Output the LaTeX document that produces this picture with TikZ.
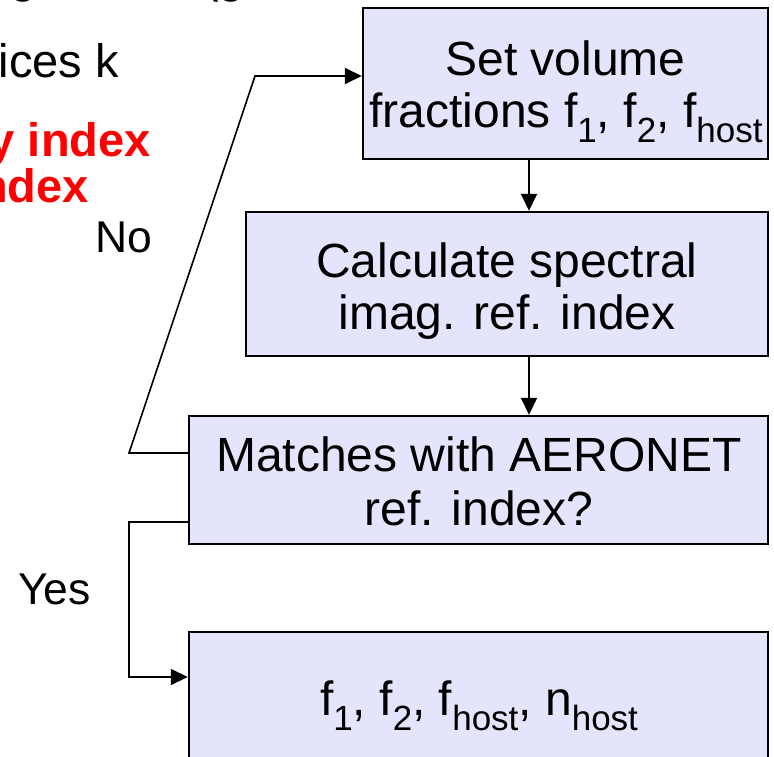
\documentclass[tikz,border=0pt]{standalone}
\usepackage{fontspec}
\setmainfont{Liberation Sans}
\usetikzlibrary{arrows.meta}
\definecolor{boxfill}{RGB}{228,228,252}
\definecolor{alertred}{RGB}{255,0,0}
\newcommand\lowsub[1]{\raisebox{-15pt}{\fontsize{35}{35}\selectfont #1}}
\tikzset{
  flowbox/.style={draw=black, line width=2.4pt, fill=boxfill, rectangle, inner sep=0pt},
  boxtext/.style={anchor=base, inner sep=0pt, font=\fontsize{48}{54}\selectfont},
  sidetext/.style={inner sep=0pt, font=\fontsize{47}{54}\selectfont},
  lbl/.style={inner sep=0pt, anchor=base west, font=\fontsize{44.5}{50}\selectfont},
  arr/.style={line width=1.6pt, -{Triangle[length=17pt,width=16pt]}},
}
\begin{document}
\begin{tikzpicture}[x=1pt,y=-1pt]
\useasboundingbox (0,0) rectangle (774,756);
\clip (0,0) rectangle (774,756);
% clipped slide text at the left
\node[sidetext, anchor=base] (fragA) at (24,-8) {g};
\node[sidetext, anchor=base west] (fragB) at (203,-8) {(g};
\node[sidetext, anchor=base east] (ices) at (119,77) {ices k};
\node[sidetext, anchor=base east, text=alertred, font=\fontsize{47}{54}\selectfont\bfseries] (red1) at (151,156) {y index};
\node[sidetext, anchor=base east, text=alertred, font=\fontsize{47}{54}\selectfont\bfseries] (red2) at (89,202) {ndex};
% boxes
\node[flowbox, minimum width=405pt, minimum height=151pt] (box1) at (565.5,83.5) {};
\node[flowbox, minimum width=522pt, minimum height=144pt] (box2) at (507,284) {};
\node[flowbox, minimum width=579pt, minimum height=128pt] (box3) at (478.5,480) {};
\node[flowbox, minimum width=579pt, minimum height=168pt] (box4) at (478.5,716) {};
% box texts
\node[boxtext] (t1a) at (565.5,75) {Set volume};
\node[boxtext] (t1b) at (566,127) {fractions f\lowsub{1}, f\lowsub{2}, f\lowsub{host}};
\node[boxtext] (t2a) at (507,277) {Calculate spectral};
\node[boxtext] (t2b) at (507,329) {imag. ref. index};
\node[boxtext] (t3a) at (479,471) {Matches with AERONET};
\node[boxtext] (t3b) at (479,525) {ref. index?};
\node[boxtext] (t4) at (479,715) {f\lowsub{1}, f\lowsub{2}, f\lowsub{host}, n\lowsub{host}};
% labels
\node[lbl] (no) at (95,252) {No};
\node[lbl] (yes) at (18,604) {Yes};
% connectors
\coordinate (ax) at (529,0);
\draw[arr] (ax |- box1.south) -- (ax |- box2.north);
\draw[arr] (ax |- box2.south) -- (ax |- box3.north);
\coordinate (nA) at (129,453);
\coordinate (nB) at (255,76);
\draw[arr] (box3.west |- nA) -- (nA) -- (nB) -- (nB -| box1.west);
\coordinate (yA) at (129,522);
\coordinate (yB) at (129,677);
\draw[arr] (box3.west |- yA) -- (yA) -- (yB) -- (yB -| box4.west);
\end{tikzpicture}
\end{document}
